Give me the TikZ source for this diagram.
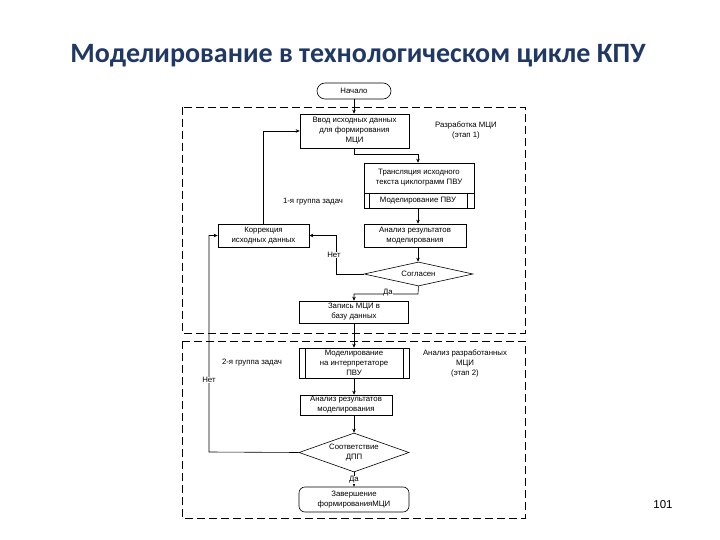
\documentclass[tikz,border=0pt]{standalone}
\usepackage{fontspec}
\setmainfont{Liberation Sans}
\newfontfamily\titlefont{Carlito}
\usetikzlibrary{shapes.geometric,arrows.meta,calc}
\definecolor{titleblue}{RGB}{31,56,100}
\begin{document}
\begin{tikzpicture}[x=1pt,y=-1pt,
  every node/.style={font=\fontsize{7.8}{10}\selectfont, align=center, inner sep=0.5pt},
  proc/.style={draw, rectangle, line width=0.6pt},
  term/.style={draw, rectangle, rounded corners=6pt, line width=0.6pt},
  dec/.style={draw, diamond, inner sep=0pt, line width=0.6pt},
  lbl/.style={fill=white, inner sep=0.5pt},
  conn/.style={draw, line width=0.6pt, -{Stealth[length=4pt,width=3.5pt]}},
  frame/.style={draw, line width=0.7pt, dash pattern=on 8pt off 4pt}]
\useasboundingbox (0,0) rectangle (720,540);
\fill[white] (0,0) rectangle (720,540);
% title
\node[font=\titlefont\bfseries\fontsize{28}{32}\selectfont, text=titleblue] (title) at (358,56) {Моделирование в технологическом цикле КПУ};
% frames
\draw[frame] (182,107) rectangle (525,333);
\draw[frame] (182,341) rectangle (525,518);
% nodes
\node[term, minimum width=74pt, minimum height=16pt, rounded corners=8pt] (start) at (354,91) {Начало};
\node[proc, minimum width=109pt, minimum height=34pt] (vvod) at (354.5,131) {Ввод исходных данных\\для формирования\\МЦИ};
\node[proc, minimum width=110pt, minimum height=45pt] (trans) at (419,185.5) {};
\node (transtxt) at (419,177.5) {Трансляция исходного\\текста циклограмм ПВУ};
\node (modpvu) at (418,200.5) {Моделирование ПВУ};
\draw[line width=0.6pt] (364,193) -- (474,193);
\draw[line width=0.6pt] (369,193) -- (369,208);
\draw[line width=0.6pt] (467,193) -- (467,208);
\node[proc, minimum width=102pt, minimum height=23pt] (anal1) at (415,235.5) {Анализ результатов\\моделирования};
\node[proc, minimum width=91pt, minimum height=23pt] (korr) at (263.5,235.5) {Коррекция\\исходных данных};
\node[dec, aspect=4.5, minimum width=109pt, minimum height=24pt] (sogl) at (418.5,274) {Согласен};
\node[proc, minimum width=109pt, minimum height=22pt] (zapis) at (354,312) {Запись МЦИ в\\базу данных};
\node[proc, minimum width=110pt, minimum height=30pt] (model2) at (354,363) {Моделирование\\на интерпретаторе\\ПВУ};
\draw[line width=0.6pt] (305,348) -- (305,378);
\draw[line width=0.6pt] (403,348) -- (403,378);
\node[proc, minimum width=92pt, minimum height=20pt] (anal2) at (346,405) {Анализ результатов\\моделирования};
\node[dec, aspect=2.8, minimum width=110pt, minimum height=39pt] (dpp) at (354,452.5) {Соответствие\\ДПП};
\node[term, minimum width=110pt, minimum height=25pt] (zaversh) at (354,499.5) {Завершение\\формированияМЦИ};
% side texts
\node (stage1) at (466,130) {Разработка МЦИ\\(этап 1)};
\node (grp1) at (313,202) {1-я группа задач};
\node (grp2) at (252,363) {2-я группа задач};
\node (stage2) at (465,363) {Анализ разработанных\\МЦИ\\(этап 2)};
\node[font=\fontsize{11.5}{13}\selectfont] (pnum) at (663,505) {101};
% connectors
\coordinate (c1) at (418,154);
\coordinate (c2) at (336,274);
\coordinate (c3) at (418,294);
\coordinate (c4) at (209,452);
\draw[conn] (start.south) -- (start.south |- vvod.north);
\draw[conn] (vvod.south) |- (c1) -- (c1 |- trans.north);
\draw[conn] (c1 |- trans.south) -- (c1 |- anal1.north);
\draw[conn] (c1 |- anal1.south) -- (c1 |- sogl.north);
\draw[conn] (sogl.west) -- (c2) |- (korr.east);
\draw[conn] (sogl.south) -- (c3) -| (zapis.north);
\draw[conn] (korr.north) |- (vvod.west);
\draw[conn] (zapis.south) -- (model2.north);
\draw[conn] (model2.south) -- (model2.south |- anal2.north);
\draw[conn] (model2.south |- anal2.south) -- (dpp.north);
\draw[conn] (dpp.west) -- (c4) |- (korr.west);
\draw[conn] (dpp.south) -- (zaversh.north);
% branch labels
\node[lbl] (net1) at (334,255) {Нет};
\node[lbl] (da1) at (388,293) {Да};
\node[lbl] (net2) at (209,380) {Нет};
\node[lbl] (da2) at (354,480) {Да};
\end{tikzpicture}
\end{document}
